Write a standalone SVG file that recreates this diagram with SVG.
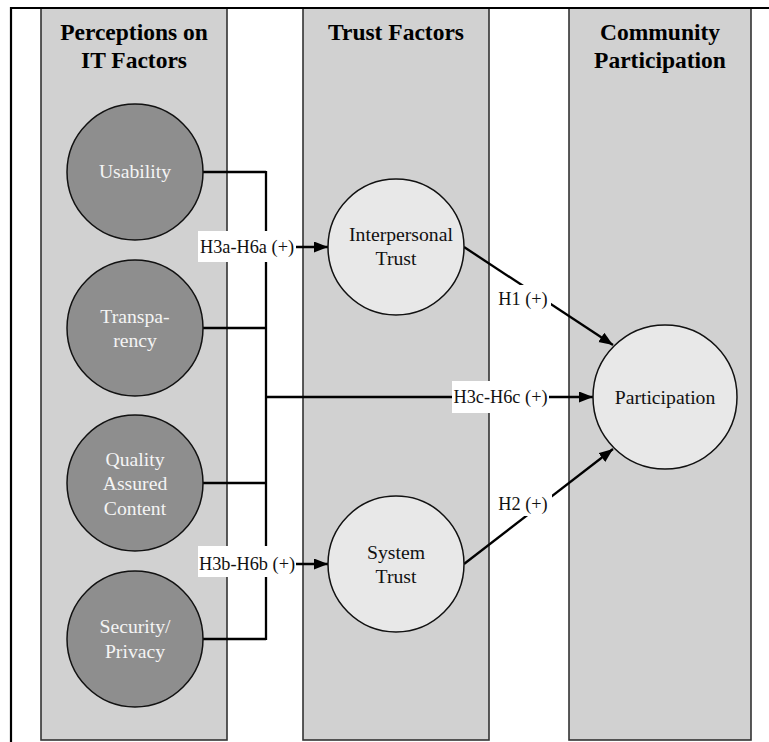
<svg xmlns="http://www.w3.org/2000/svg" width="769" height="742" viewBox="0 0 769 742">
<defs>
<style>
.col{fill:#d1d1d1;stroke:#333;stroke-width:1.6}
.frame{stroke:#000;stroke-width:2.2;fill:none}
.title{font-family:"Liberation Serif","Times New Roman",serif;font-weight:bold;font-size:23.5px;fill:#000;text-anchor:middle}
.dark{fill:#8e8e8e;stroke:#111;stroke-width:1.5}
.light{fill:#e8e8e8;stroke:#111;stroke-width:1.5}
.dt{font-family:"Liberation Serif","Times New Roman",serif;font-size:19.7px;fill:#f4f4f4;text-anchor:middle}
.lt{font-family:"Liberation Serif","Times New Roman",serif;font-size:19.7px;fill:#111;text-anchor:middle}
.conn{stroke:#000;stroke-width:2.3;fill:none}
.lbox{fill:#fff;stroke:none}
.lbl{font-family:"Liberation Serif","Times New Roman",serif;font-size:18.3px;fill:#111;text-anchor:middle}
</style>
<marker id="arr" markerUnits="userSpaceOnUse" markerWidth="15" markerHeight="12" refX="14" refY="5.5" orient="auto">
<path d="M0,0 L14,5.5 L0,11 z" fill="#000"/>
</marker>
</defs>
<rect x="0" y="0" width="769" height="742" fill="#fff"/>
<g id="columns">
<rect class="col" x="41" y="8" width="186" height="732"/>
<rect class="col" x="303" y="8" width="186" height="732"/>
<rect class="col" x="569" y="8" width="182" height="732"/>
<text class="title" x="134" y="40">Perceptions on</text>
<text class="title" x="134" y="68">IT Factors</text>
<text class="title" x="396" y="40">Trust Factors</text>
<text class="title" x="660" y="40">Community</text>
<text class="title" x="660" y="68">Participation</text>
</g>
<g id="frame">
<path class="frame" d="M11,742 V8 H769"/>
</g>
<g id="connectors">
<path class="conn" d="M203,172 H266 M203,328 H266 M203,483 H266 M203,639 H266 M266,171 V640"/>
<path class="conn" d="M266,247 H328" marker-end="url(#arr)"/>
<path class="conn" d="M266,564 H328" marker-end="url(#arr)"/>
<path class="conn" d="M266,397 H593" marker-end="url(#arr)"/>
<path class="conn" d="M464,247 L613,345" marker-end="url(#arr)"/>
<path class="conn" d="M464,564 L613,449" marker-end="url(#arr)"/>
<rect class="lbox" x="198" y="231" width="98" height="31"/>
<text class="lbl" x="247" y="253">H3a-H6a (+)</text>
<rect class="lbox" x="198" y="546" width="98" height="31"/>
<text class="lbl" x="247" y="570">H3b-H6b (+)</text>
<rect class="lbox" x="452" y="381" width="97" height="32"/>
<text class="lbl" x="500.5" y="403">H3c-H6c (+)</text>
<rect class="lbox" x="495" y="285" width="56" height="29"/>
<text class="lbl" x="523" y="305">H1 (+)</text>
<rect class="lbox" x="495" y="489" width="57" height="27"/>
<text class="lbl" x="523" y="510">H2 (+)</text>
</g>
<g id="usability">
<circle class="dark" cx="135" cy="172" r="68"/>
<text class="dt" x="135" y="178">Usability</text>
</g>
<g id="transparency">
<circle class="dark" cx="135" cy="328" r="68"/>
<text class="dt" x="135" y="323">Transpa-</text>
<text class="dt" x="135" y="347">rency</text>
</g>
<g id="quality">
<circle class="dark" cx="135" cy="483" r="68"/>
<text class="dt" x="135" y="466">Quality</text>
<text class="dt" x="135" y="490">Assured</text>
<text class="dt" x="135" y="515">Content</text>
</g>
<g id="security">
<circle class="dark" cx="135" cy="639" r="68"/>
<text class="dt" x="135" y="633">Security/</text>
<text class="dt" x="135" y="658">Privacy</text>
</g>
<g id="interpersonal">
<circle class="light" cx="396" cy="247" r="68"/>
<text class="lt" x="401" y="241">Interpersonal</text>
<text class="lt" x="396" y="265">Trust</text>
</g>
<g id="system">
<circle class="light" cx="396" cy="564" r="68"/>
<text class="lt" x="396" y="559">System</text>
<text class="lt" x="396" y="583">Trust</text>
</g>
<g id="participation">
<circle class="light" cx="665" cy="397" r="72"/>
<text class="lt" x="665" y="404">Participation</text>
</g>
</svg>
